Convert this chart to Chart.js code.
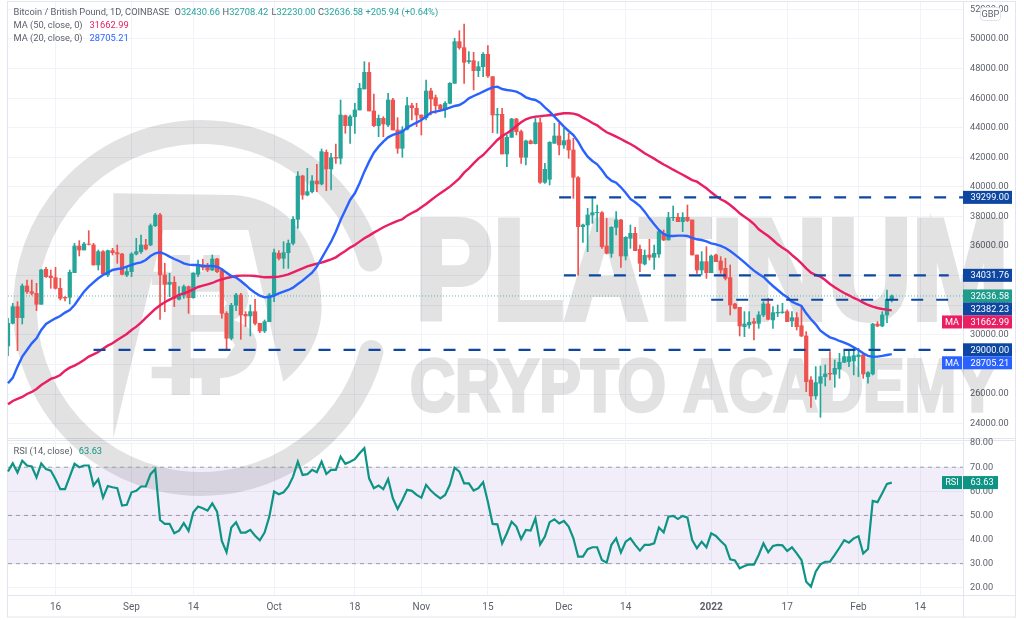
<!DOCTYPE html>
<html>
<head>
<meta charset="utf-8">
<style>html,body{margin:0;padding:0;background:#fff;overflow:hidden}canvas{display:block}</style>
<script src="https://cdn.jsdelivr.net/npm/chart.js@4"></script>
</head>
<body>
<canvas id="c" width="1024" height="620" style="width:1024px;height:620px"></canvas>
<script>
const opens = [
29258,30789,31915,31172,33312,32929,32816,32073,34438,33987,
33875,33154,32546,32546,34212,36014,35744,36149,36082,34730,
35631,34055,35699,35564,35474,34055,34280,35474,35631,36082,
36082,37388,38108,34055,33424,33559,32411,32704,33267,32523,
34100,34730,34573,34393,35136,34393,31465,29776,32006,32704,
31397,31285,31577,30789,30271,30902,32704,35519,35181,35564,
36194,37816,40744,39460,39686,40406,40204,42343,41217,42000,
41938,44821,44145,44753,45204,46622,47748,45136,44145,44641,
44190,45879,43852,42614,43897,45496,45316,44866,44686,46487,
46037,45541,45249,45654,47005,49820,49415,48469,48537,47861,
48131,48964,47456,44866,44911,42231,43357,44596,43740,42006,
43109,42929,44348,40317,40520,42952,43448,42839,43177,42501,
40632,37320,37433,38108,38266,38266,36014,35519,37275,37771,
35338,36532,36870,35789,34798,35406,35248,35474,36870,36419,
37928,37951,37658,37951,37771,35406,34393,34956,34212,35406,
35001,34505,33875,32096,31870,30564,30677,30902,30789,31352,
32096,31015,31488,31510,31577,30947,31172,30631,29934,26961,
25880,26736,27186,27411,27344,27704,28155,28200,28245,28537,
28650,27186,27366,30744,30609,31352,32430.66];
const closes = [
30789,31915,31172,33312,32929,32816,32073,34393,33942,33875,
33154,32478,32501,34235,36014,35744,36149,36127,34730,35631,
34122,35699,35564,35474,34100,34280,35474,35631,36082,35811,
37388,38108,34055,33424,33559,32478,32704,33267,32523,34167,
34730,34573,34393,35136,34280,31465,29776,32006,32704,31352,
31285,31577,30789,30271,30902,32704,35564,35181,35564,36194,
37816,40744,39460,39686,40406,40204,42388,41217,41983,41950,
44866,44145,44753,45204,46667,47748,45136,44145,44641,44258,
45879,43852,42614,43852,45496,45361,44866,44641,46487,45947,
45496,45249,45654,47005,49820,49415,48424,48537,47861,48131,
48964,47501,44866,44911,42231,43357,44596,43740,42006,43109,
42929,44348,40317,41195,43019,43448,42839,43132,42501,40654,
37320,37433,38108,38266,38289,35969,35519,37275,37771,35338,
36600,36870,35699,34843,35383,35248,35519,36982,36419,37928,
37951,37658,37951,37726,35406,34393,34956,34212,35338,34956,
34393,33830,32028,31803,30609,30744,30857,30789,31352,32096,
31060,31510,31533,31555,30902,31172,30564,29934,26848,25880,
26781,27186,27366,27366,27749,28155,28537,28537,28605,28650,
27366,27456,30744,30609,31352,32411,32636.58];
const highs = [
31127,32141,32253,33447,33717,33717,33492,34438,34573,34393,
34573,33830,32591,34393,36194,36374,36262,37050,36194,35744,
35699,35744,35856,36082,35519,34618,35564,36532,36757,36465,
37500,38221,38221,34843,34167,33942,33267,33379,33312,34212,
35068,35113,34843,35406,35181,34505,31577,32141,32816,32816,
31577,32028,32411,30789,31015,32800,35811,35699,36307,36419,
37996,41037,40800,41263,40767,41533,42568,42500,42275,42906,
45879,44866,44866,45654,47005,48469,48401,46285,44866,44753,
46330,45992,44686,44078,46059,45654,45654,44866,47230,46667,
46217,45586,45767,47050,50045,50563,51014,49145,49100,48469,
49077,49550,47456,45316,45316,43515,44641,44641,43852,43177,
43177,44641,44641,41600,43064,44303,44303,43965,43627,43289,
40700,37500,38559,39347,38784,38334,37883,37320,38334,37816,
36650,37433,37275,36082,35744,36465,36082,37095,37095,38289,
38716,38221,38266,38784,37771,35406,35631,35969,35406,35474,
35293,35181,34730,32141,31870,31577,31577,31127,31577,32253,
32478,31915,32028,32141,31690,31577,31510,31915,30226,27186,
27862,27907,27975,28875,28312,28763,28943,28988,29100,29100,
28763,27524,30789,30902,31577,33041,32708.42];
const lows = [
28605,30744,28943,30744,32816,32704,31645,32073,33897,33154,
33100,32366,32300,32096,34212,35338,35744,36082,34730,34393,
34055,33942,35406,34843,34055,33942,33942,35406,35519,35744,
36037,37320,31060,31577,32591,31915,32366,32478,31465,32478,
33942,34393,34280,34348,34212,31127,28988,29664,31645,29708,
30564,29934,30677,30159,30159,30902,32253,35068,34505,34505,
36082,37208,39168,39400,39600,39686,40136,39754,39799,41600,
41555,43627,42952,43627,45204,46622,45136,44078,43402,43402,
44078,43852,42276,42006,43852,44528,44078,43515,44528,44866,
44978,45159,44708,45609,47005,49302,47005,48356,46555,47456,
47456,47411,43672,43627,42231,41375,43357,43515,41600,41488,
42907,42907,40249,40249,40136,42952,42164,42614,41938,39236,
34050,36262,35631,37545,36982,35856,35474,35248,36757,34573,
35068,35856,35699,34280,34730,35068,34438,35248,36374,36419,
37726,37658,36982,37658,35406,34167,34055,33830,34212,34956,
34167,33717,31352,31758,29934,29889,30451,29664,30451,31240,
31015,30451,31240,31465,30902,30564,30339,29889,26172,25114,
25655,24439,26556,26961,26465,27074,28132,27862,27299,27186,
27074,26736,27299,30564,30564,30834,32230];
const ma20 = [
26736,27100,27862,28537,28988,29438,29776,30339,30744,30947,
31127,31285,31510,31690,32028,32478,32929,33267,33559,33830,
34055,34212,34393,34460,34505,34618,34730,34843,34911,35068,
35338,35519,35586,35474,35293,35136,34999,34843,34753,34730,
34730,34663,34663,34663,34618,34438,34212,33987,33875,33649,
33379,33086,32861,32658,32546,32568,32658,32816,32929,33041,
33199,33447,33672,33942,34212,34618,35181,35744,36307,36982,
37772,38448,39123,39574,40249,41037,41713,42321,42726,43064,
43357,43515,43627,43740,44010,44190,44348,44528,44753,45023,
45091,45159,45249,45361,45474,45541,45722,45992,46149,46285,
46442,46600,46735,46780,46622,46555,46510,46442,46285,46059,
45947,45879,45699,45384,45091,44753,44415,44078,43785,43515,
43064,42501,42051,41758,41533,41150,40700,40429,40293,39978,
39617,39189,38964,38716,38334,37883,37478,37095,36825,36690,
36690,36712,36712,36690,36555,36465,36419,36329,36194,36127,
36014,35879,35676,35429,35181,34911,34618,34348,34122,33920,
33604,33312,33041,32771,32546,32253,32096,31960,31465,31060,
30722,30294,30046,29843,29731,29595,29483,29348,29168,28988,
28760,28590,28530,28540,28590,28650,28705.21];
const ma50 = [
25317,25542,25677,25813,26015,26150,26353,26623,26826,27029,
27141,27299,27591,27794,27929,28110,28312,28537,28695,28852,
29078,29281,29438,29664,29866,30069,30339,30564,30835,31150,
31465,31758,32006,32208,32388,32546,32704,32816,32929,33086,
33244,33334,33424,33514,33649,33762,33852,33920,33987,34010,
34010,34010,33987,33942,33897,33897,33920,33942,34010,34100,
34235,34370,34505,34640,34730,34820,34888,34999,35113,35248,
35475,35678,35903,36083,36308,36533,36714,36916,37096,37277,
37434,37570,37705,37817,38065,38245,38403,38628,38853,39101,
39348,39574,39799,40024,40294,40587,40970,41263,41600,41916,
42163,42501,42839,43177,43447,43627,43852,44123,44370,44573,
44686,44753,44776,44821,44843,44866,44933,44978,44978,44956,
44866,44686,44528,44325,44168,43920,43695,43560,43402,43245,
43064,42907,42726,42501,42276,42096,41916,41713,41520,41350,
41170,41000,40830,40650,40470,40360,40135,39910,39640,39392,
39167,39009,38784,38514,38221,37996,37771,37500,37140,36915,
36690,36419,36127,35901,35699,35406,35136,34843,34505,34212,
34055,33942,33717,33447,33222,33019,32839,32681,32501,32366,
32186,32028,31915,31825,31758,31713,31662.99];
const rsi = [
68.2,71.6,67.8,72.7,70.7,70.3,65.8,71.6,69.2,68.6,
65.0,60.9,60.9,66.1,71.4,70.0,70.7,70.7,62.4,65.0,
57.4,62.2,61.7,61.3,54.1,54.4,59.6,60.2,62.0,62.0,
67.1,69.2,48.1,46.5,46.5,42.6,43.7,46.8,43.6,51.3,
53.7,53.0,52.0,55.0,51.6,39.4,34.7,45.0,47.2,42.9,
42.9,44.0,41.6,39.7,42.9,49.5,59.9,58.8,59.6,62.0,
66.1,72.3,66.8,67.1,68.9,67.9,72.3,67.2,68.9,68.9,
74.4,71.4,72.3,73.3,75.8,77.9,65.4,61.3,62.4,60.9,
65.1,57.1,52.7,56.4,60.6,60.2,58.5,57.4,62.7,60.3,
58.5,57.1,58.5,62.7,69.8,68.2,63.3,63.3,60.3,61.3,
63.8,55.7,46.5,46.3,38.4,42.6,47.4,45.4,40.2,44.0,
43.7,48.8,38.0,41.2,47.2,48.4,46.7,47.7,45.4,40.5,
32.9,32.9,36.0,36.8,36.8,31.5,30.4,37.8,40.5,34.6,
39.1,40.5,37.8,35.4,37.8,37.8,38.4,45.0,43.0,49.5,
49.8,48.5,49.8,49.1,39.8,36.4,39.1,36.8,42.6,41.5,
39.4,37.5,31.8,31.3,28.1,29.0,29.7,29.6,33.6,38.4,
34.7,37.3,37.8,37.6,35.3,36.8,34.3,31.5,22.5,20.5,
26.7,29.7,30.8,30.8,33.6,36.6,39.7,38.7,40.5,41.4,
34.2,36.1,56.0,55.5,59.2,63.1,63.63];

// Daily categories, 6 Aug 2021 to 23 Feb 2022
const dates = [];
for (let d = new Date(Date.UTC(2021,7,6)); d <= new Date(Date.UTC(2022,1,23)); d.setUTCDate(d.getUTCDate()+1)) dates.push(d.toISOString().slice(0,10));
const xTickDates = ['2021-08-16','2021-09-01','2021-09-14','2021-10-01','2021-10-18','2021-11-01','2021-11-15','2021-12-01','2021-12-14','2022-01-01','2022-01-17','2022-02-01','2022-02-14'];
const xTickLabels = ['16','Sep','14','Oct','18','Nov','15','Dec','14','2022','17','Feb','14'];
const priceTicks = [24000,26000,28000,30000,32000,34000,36000,38000,40000,42000,44000,46000,48000,50000,52000];
const rsiTicks = [20,30,40,50,60,70,80];

const levelValues = [39299, 34031.76, 32382.23, 29000];
const levelStarts = ['2021-11-30','2021-12-01','2022-01-01','2021-08-24'];
const levelEnds   = ['2022-02-23','2022-02-20','2022-02-20','2022-02-23'];
const rsiLevels = [70, 50, 30];
const lastPrice = 32636.58;
const lastMA50 = 31662.99, lastMA20 = 28705.21, lastRSI = 63.63;

const UP = '#26a69a', DOWN = '#ef5350', PINK = '#e91e63', BLUE = '#2962ff', NAVY = '#0d47a1', RSIC = '#0e9484';
const barColors = closes.map((c,i) => c >= opens[i] ? UP : DOWN);
const levelSeries = (v, a, b) => dates.map(d => d >= a && d <= b ? v : null);
const FONT = 'Roboto, "Liberation Sans", sans-serif';

const watermark = {
  id: 'watermark',
  beforeDatasetsDraw(chart) {
    const off = document.createElement('canvas'); off.width = 1024; off.height = 620;
    const c = off.getContext('2d');
    c.fillStyle = '#000'; c.strokeStyle = '#000';
    // ring with rounded ends
    c.lineWidth = 24; c.lineCap = 'round';
    c.beginPath(); c.arc(201, 308, 176, 14.5*Math.PI/180, -16*Math.PI/180); c.stroke();
    // D
    const z = (x,y) => [x/3, 110+y/3];
    c.beginPath();
    c.moveTo(...z(340,250)); c.lineTo(...z(700,255));
    c.bezierCurveTo(...z(880,265), ...z(965,420), ...z(965,590));
    c.bezierCurveTo(...z(965,680), ...z(920,760), ...z(850,815));
    c.lineTo(...z(745,360)); c.lineTo(...z(490,360)); c.lineTo(...z(340,985));
    c.closePath(); c.fill();
    // B glyph
    c.beginPath();
    c.moveTo(...z(455,485)); c.lineTo(...z(515,485)); c.lineTo(...z(515,435)); c.lineTo(...z(570,435)); c.lineTo(...z(570,485));
    c.lineTo(...z(610,485)); c.lineTo(...z(610,435)); c.lineTo(...z(660,435)); c.lineTo(...z(660,488));
    c.bezierCurveTo(...z(720,495), ...z(750,530), ...z(745,570));
    c.bezierCurveTo(...z(742,600), ...z(725,620), ...z(700,630));
    c.bezierCurveTo(...z(750,645), ...z(775,680), ...z(770,715));
    c.bezierCurveTo(...z(765,770), ...z(720,800), ...z(660,805));
    c.lineTo(...z(660,855)); c.lineTo(...z(605,855)); c.lineTo(...z(605,805)); c.lineTo(...z(570,805)); c.lineTo(...z(570,855)); c.lineTo(...z(515,855)); c.lineTo(...z(515,805));
    c.lineTo(...z(455,805)); c.lineTo(...z(455,770)); c.lineTo(...z(515,770)); c.lineTo(...z(515,525)); c.lineTo(...z(455,525));
    c.closePath();
    c.moveTo(...z(572,545)); c.lineTo(...z(572,615)); c.lineTo(...z(660,615)); c.lineTo(...z(680,580)); c.lineTo(...z(660,545)); c.closePath();
    c.moveTo(...z(572,665)); c.lineTo(...z(572,745)); c.lineTo(...z(680,745)); c.lineTo(...z(705,705)); c.lineTo(...z(680,665)); c.closePath();
    c.fill('evenodd');
    // wordmark
    c.textBaseline = 'alphabetic'; c.textAlign = 'left'; c.lineJoin = 'miter'; c.lineCap = 'butt';
    c.font = 'bold 143px "Liberation Sans", sans-serif';
    c.lineWidth = 6;
    c.fillText('PLATINUM', 415, 319, 594); c.strokeText('PLATINUM', 415, 319, 594);
    c.font = 'bold 74px "Liberation Sans", sans-serif';
    c.lineWidth = 3.5;
    c.fillText('CRYPTO ACADEMY', 410, 411, 588); c.strokeText('CRYPTO ACADEMY', 410, 411, 588);
    const m = chart.ctx; m.save();
    m.globalAlpha = 0.115; m.drawImage(off, 0, 0);
    m.restore();
  }
};

const frame = {
  id: 'frame',
  beforeDraw(chart) {
    const c = chart.ctx, a = chart.chartArea; c.save();
    c.strokeStyle = '#e3e6ee'; c.lineWidth = 1;
    c.strokeRect(7.5, 1.5, 1008, 615.5);
    const line = (x1,y1,x2,y2) => { c.beginPath(); c.moveTo(x1,y1); c.lineTo(x2,y2); c.stroke(); };
    line(a.right+.5, 1.5, a.right+.5, 617);
    line(7.5, chart.scales.yRsi.top-.5, 1015.5, chart.scales.yRsi.top-.5);
    line(7.5, chart.scales.yRsi.top+1.5, 1015.5, chart.scales.yRsi.top+1.5);
    line(7.5, a.bottom+.5, 1015.5, a.bottom+.5);
    c.restore();
  }
};

function segments(c, x, y, parts) {
  parts.forEach(p => { c.fillStyle = p[1]; c.fillText(p[0], x, y); x += c.measureText(p[0]).width + (p[2] || 0); });
}
const overlay = {
  id: 'overlay',
  afterDraw(chart) {
    const c = chart.ctx, a = chart.chartArea, Y = chart.scales.y, R = chart.scales.yRsi;
    c.save();
    c.textBaseline = 'middle'; c.textAlign = 'left';
    c.font = '9.3px ' + FONT;
    const G = '#5d606b', T = '#26a69a';
    c.fillStyle = G; c.fillText('Bitcoin / British Pound, 1D, COINBASE', 13.5, 12.7);
    segments(c, 174.5, 12.7, [['O',G],['32430.66',T]]);
    segments(c, 222.5, 12.7, [['H',G],['32708.42',T]]);
    segments(c, 271.5, 12.7, [['L',G],['32230.00',T]]);
    segments(c, 318, 12.7, [['C',G],['32636.58 +205.94 (+0.64%)',T]]);
    segments(c, 13.5, 26, [['MA (50, close, 0)',G,7],['31662.99',PINK]]);
    segments(c, 13.5, 38.7, [['MA (20, close, 0)',G,7],['28705.21',BLUE]]);
    segments(c, 13.5, 451.7, [['RSI (14, close)',G,6],['63.63',RSIC]]);

    // price tags, pushed apart when they would overlap
    const tags = [
      {v:39299, bg:NAVY},{v:34031.76, bg:NAVY},{v:lastPrice, bg:'#1f9c8c'},
      {v:32382.23, bg:NAVY},{v:lastMA50, bg:PINK, t:'MA'},{v:29000, bg:NAVY},{v:lastMA20, bg:BLUE, t:'MA'}
    ];
    let prev = -100;
    c.font = '9.2px ' + FONT;
    tags.forEach(t => {
      const y = Math.max(Y.getPixelForValue(t.v), prev + 13); prev = y;
      c.fillStyle = t.bg; c.fillRect(a.right, y-6.5, 49, 13);
      c.fillStyle = '#fff'; c.textAlign = 'left'; c.fillText(t.v.toFixed(2), 970.5, y+.5);
      if (t.t) { c.fillStyle = t.bg; c.fillRect(a.right-21, y-6.5, 20, 13); c.fillStyle = '#fff'; c.textAlign='center'; c.fillText(t.t, a.right-11, y+.5); }
    });
    const ry = R.getPixelForValue(lastRSI);
    c.fillStyle = RSIC; c.fillRect(a.right, ry-6.5, 35, 13); c.fillRect(a.right-21, ry-6.5, 20, 13);
    c.fillStyle = '#fff'; c.textAlign='left'; c.fillText(lastRSI.toFixed(2), 970.5, ry+.5);
    c.textAlign='center'; c.fillText('RSI', a.right-11, ry+.5);

    // currency badge
    c.fillStyle = '#fff'; c.strokeStyle = '#e0e3eb';
    c.beginPath(); c.roundRect(980.5, 7.5, 20, 13, 3); c.fill(); c.stroke();
    c.fillStyle = '#5d606b'; c.textAlign = 'center'; c.fillText('GBP', 990.5, 14.5);
    c.restore();
  }
};

function noOverhang(axis) { axis.paddingTop = 0; axis.paddingBottom = 0; axis.paddingLeft = 0; axis.paddingRight = 0; }

new Chart(document.getElementById('c'), {
  type: 'bar',
  data: {
    labels: dates,
    datasets: [
      ...levelValues.map((v,i) => ({ type:'line', label:'level '+v, data: levelSeries(v, levelStarts[i], levelEnds[i]), yAxisID:'y',
        borderColor: NAVY, borderWidth:2.2, borderDash:[12,13], pointRadius:0, order:0 })),
      { type:'line', label:'MA 20', data: ma20, yAxisID:'y', borderColor: BLUE, borderWidth:2.4, pointRadius:0, order:1 },
      { type:'line', label:'MA 50', data: ma50, yAxisID:'y', borderColor: PINK, borderWidth:2.4, pointRadius:0, order:1 },
      { type:'line', label:'RSI', data: rsi, yAxisID:'yRsi', borderColor: RSIC, borderWidth:2.2, pointRadius:0, order:1 },
      { type:'bar', label:'Body', data: opens.map((o,i) => [o, closes[i]]), yAxisID:'y', backgroundColor: barColors, barThickness:3.6, grouped:false, borderWidth:0, borderSkipped:false, order:3 },
      { type:'bar', label:'Wick', data: lows.map((l,i) => [l, highs[i]]), yAxisID:'y', backgroundColor: barColors, barThickness:1, grouped:false, borderWidth:0, borderSkipped:false, order:4 },
      { type:'line', label:'Last', data: dates.map(() => lastPrice), yAxisID:'y', borderColor:'rgba(38,166,154,.75)', borderWidth:1, borderDash:[1,2], pointRadius:0, order:5 },
      ...rsiLevels.map((v,i) => ({ type:'line', label:'RSI level '+v, data: dates.map(() => v), yAxisID:'yRsi',
        borderColor:'#9a9ca5', borderWidth:1, borderDash:[4,4], pointRadius:0, order:6,
        fill: v === 70 ? {value:30} : false, backgroundColor:'rgba(126,87,194,0.1)' }))
    ]
  },
  options: {
    responsive:false, animation:false, devicePixelRatio:1,
    layout:{ padding:{ left:8, right:9, top:2, bottom:3 } },
    plugins:{ legend:{display:false}, tooltip:{enabled:false} },
    scales:{
      x:{ type:'category', offset:false,
        grid:{ color:'#f0f3fa', drawTicks:false, offset:false }, border:{display:false},
        afterBuildTicks(axis){ axis.ticks = axis.ticks.filter(t => xTickDates.includes(dates[t.value])); },
        afterFit(axis){ axis.height = 22; noOverhang(axis); },
        ticks:{ autoSkip:false, maxRotation:0, padding:6, color:'#5d606b',
          font: ctx => ({ family:FONT, size:10, weight: (ctx.tick && ctx.tick.label === '2022') ? 'bold' : 'normal' }),
          callback(v){ return xTickLabels[xTickDates.indexOf(dates[v])]; } } },
      y:{ type:'linear', position:'right', stack:'panes', stackWeight:437, min:22972, max:52500,
        afterBuildTicks(axis){ axis.ticks = priceTicks.map(value => ({value})); },
        afterFit(axis){ axis.width = 52; noOverhang(axis); },
        grid:{ color:'#f0f3fa', drawTicks:false }, border:{display:false},
        ticks:{ autoSkip:false, crossAlign:'near', padding:7, color:'#5d606b', font:{family:FONT,size:9.2}, callback:v => v.toFixed(2) } },
      yRsi:{ type:'linear', position:'right', stack:'panes', stackWeight:156, min:17, max:81.7,
        afterBuildTicks(axis){ axis.ticks = rsiTicks.map(value => ({value})); },
        afterFit(axis){ axis.width = 52; noOverhang(axis); },
        grid:{ color:'#f0f3fa', drawTicks:false }, border:{display:false},
        ticks:{ autoSkip:false, crossAlign:'near', padding:7, color:'#5d606b', font:{family:FONT,size:9.2}, callback:v => v.toFixed(2) } }
    }
  },
  plugins:[frame, watermark, overlay]
});
</script>
</body>
</html>
